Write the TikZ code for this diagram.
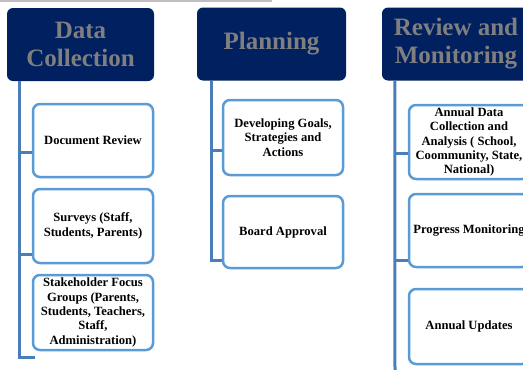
\documentclass[tikz,border=0pt]{standalone}
\usepackage{fontspec}
\setmainfont{Liberation Serif}
\definecolor{navy}{RGB}{0,32,96}
\definecolor{headtext}{RGB}{127,127,127}
\definecolor{boxline}{RGB}{91,155,213}
\definecolor{connline}{RGB}{74,126,187}
\begin{document}
\begin{tikzpicture}[x=1pt,y=-1pt,
  head/.style={fill=navy, draw=none, rounded corners=6pt, minimum width=#1, minimum height=73pt,
     align=center, text=headtext, font=\fontsize{25}{28}\selectfont\bfseries, inner sep=0pt},
  item/.style={fill=white, draw=boxline, line width=2.5pt, rounded corners=7pt, minimum width=120pt,
     minimum height=#1, align=center, font=\fontsize{12.6}{14.3}\selectfont\bfseries, inner sep=0pt},
  conn/.style={draw=connline, line width=3pt}]
\useasboundingbox (0,0) rectangle (523,370);
\draw[line width=1.5pt, draw=black!25] (0,1) -- (272,1);

% headers
\node[head=147pt] (h1) at (80.5,44.5) {Data\\Collection};
\node[head=149pt] (h2) at (271.5,44) {Planning};
\node[head=148pt] (h3) at (456,44) {Review and\\Monitoring};

% connectors
\coordinate (e1) at (35,357);
\coordinate (e2) at (222,260);
\coordinate (e3) at (395,370);
\draw[conn] ([xshift=13pt]h1.south west) |- (e1);
\draw[conn] ([xshift=15pt]h2.south west) |- (e2);
\draw[conn] ([xshift=13pt]h3.south west) -- (e3);

% items
\node[item=73pt] (b11) at (93,140.5) {Document Review};
\node[item=74pt] (b12) at (93,226) {Surveys (Staff,\\ Students, Parents)};
\node[item=75pt] (b13) at (93,312.5) {Stakeholder Focus\\ Groups (Parents,\\ Students, Teachers,\\ Staff,\\ Administration)};
\node[item=75pt] (b21) at (283,137.5) {Developing Goals,\\ Strategies and\\ Actions};
\node[item=72pt] (b22) at (283,232) {Board Approval};
\node[item=74pt] (b31) at (469,142) {Annual Data\\ Collection and\\ Analysis ( School,\\ Coommunity, State,\\ National)};
\node[item=73pt] (b32) at (469,230.5) {Progress Monitoring};
\node[item=75pt] (b33) at (469,326.5) {Annual Updates};

% branches
\draw[conn] ([yshift=-11.5pt]b11.west) -- ++(-12,0);
\draw[conn] ([yshift=-28pt]b12.west) -- ++(-12,0);
\draw[conn] ([yshift=-12.5pt]b21.west) -- ++(-10,0);
\draw[conn] ([yshift=-11pt]b31.west) -- ++(-13,0);
\draw[conn] ([yshift=-29.5pt]b32.west) -- ++(-13,0);
\end{tikzpicture}
\end{document}
